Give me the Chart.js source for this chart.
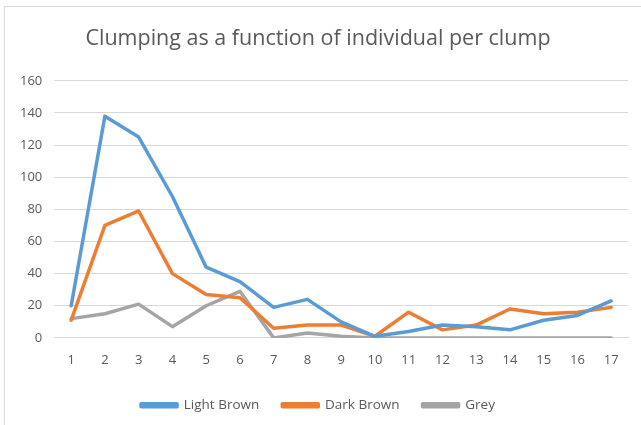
<!DOCTYPE html>
<html>
<head>
<meta charset="utf-8">
<script src="https://cdn.jsdelivr.net/npm/chart.js@4"></script>
<style>
    body { margin: 0; background: #fff; }
    #wrap { position: relative; width: 641px; height: 425px; }
    #frame { position: absolute; left: 4px; top: 6px; width: 650px; height: 430px; border: 1px solid #d9d9d9; }
    canvas { position: absolute; left: 0; top: 0; }
</style>
</head>
<body>
<div id="wrap">
    <div id="frame"></div>
    <canvas id="chart" width="641" height="425"></canvas>
</div>
<script>
const categories = ['1', '2', '3', '4', '5', '6', '7', '8', '9', '10', '11', '12', '13', '14', '15', '16', '17'];
const lightBrown = [20, 138, 125, 88, 44, 35, 19, 24, 10, 1, 4, 8, 7, 5, 11, 14, 23];
const darkBrown = [11, 70, 79, 40, 27, 25, 6, 8, 8, 1, 16, 5, 8, 18, 15, 16, 19];
const grey = [12, 15, 21, 7, 20, 29, 0, 3, 1, 0, 0, 0, 0, 0, 0, 0, 0];

const textColor = '#595959';
const gridColor = '#d9d9d9';

document.addEventListener('DOMContentLoaded', function () {
    const ctx = document.getElementById('chart').getContext('2d');
    new Chart(ctx, {
        type: 'line',
        data: {
            labels: categories,
            datasets: [
                { label: 'Light Brown', data: lightBrown, borderColor: '#5b9bd5', backgroundColor: '#5b9bd5' },
                { label: 'Dark Brown', data: darkBrown, borderColor: '#ed7d31', backgroundColor: '#ed7d31' },
                { label: 'Grey', data: grey, borderColor: '#a5a5a5', backgroundColor: '#a5a5a5' }
            ]
        },
        options: {
            responsive: false,
            animation: false,
            elements: {
                line: { borderWidth: 3.5, tension: 0, borderCapStyle: 'round', borderJoinStyle: 'round' },
                point: { radius: 0 }
            },
            layout: { padding: { left: 8, right: 13, top: 16, bottom: 3 } },
            plugins: {
                title: {
                    display: true,
                    text: 'Clumping as a function of individual per clump',
                    color: textColor,
                    font: { family: 'Open Sans', size: 21.5, weight: 'normal' },
                    padding: { top: 10, bottom: 29 }
                },
                legend: {
                    position: 'bottom',
                    labels: {
                        color: textColor,
                        font: { family: 'Open Sans', size: 13.5 },
                        boxWidth: 36,
                        boxHeight: 3,
                        padding: 23
                    }
                },
                tooltip: { enabled: false }
            },
            scales: {
                x: {
                    offset: true,
                    grid: { display: false },
                    border: { display: true, color: gridColor },
                    ticks: { color: textColor, font: { family: 'Open Sans', size: 13 }, padding: 7 }
                },
                y: {
                    min: 0,
                    max: 160,
                    ticks: { stepSize: 20, color: textColor, font: { family: 'Open Sans', size: 13 }, padding: 12 },
                    grid: { color: gridColor, drawTicks: false },
                    border: { display: false }
                }
            }
        }
    });
});
</script>
</body>
</html>
